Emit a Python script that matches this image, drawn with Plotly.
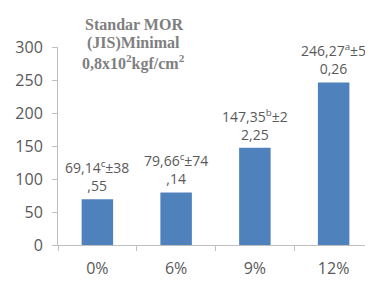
import plotly.graph_objects as go

categories = ["0%", "6%", "9%", "12%"]
mor_values = [69.14, 79.66, 147.35, 246.27]
value_labels = [
    "69,14<sup>c</sup>±38<br>,55",
    "79,66<sup>c</sup>±74<br>,14",
    "147,35<sup>b</sup>±2<br>2,25",
    "246,27<sup>a</sup>±5<br>0,26",
]
y_ticks = [0, 50, 100, 150, 200, 250, 300]
standard_note_lines = [
    "Standar MOR",
    "(JIS)Minimal",
    "0,8x10<sup>2</sup>kgf/cm<sup>2</sup>",
]

gray = "#595959"
axis_gray = "#bfbfbf"

fig = go.Figure()
fig.add_trace(go.Bar(
    x=categories, y=mor_values,
    marker=dict(color="#4F81BD", line=dict(width=0)),
    width=0.4,
))

for cat, val, lab in zip(categories, mor_values, value_labels):
    fig.add_annotation(
        x=cat, y=val, text=lab, xref="x", yref="y",
        xanchor="center", yanchor="bottom", yshift=2,
        showarrow=False, align="center",
        font=dict(family="Open Sans", size=14, color=gray),
    )

fig.update_layout(
    width=365, height=276,
    margin=dict(l=50, r=0, t=39, b=39, autoexpand=False),
    paper_bgcolor="white", plot_bgcolor="white",
    showlegend=False,
    font=dict(family="Open Sans", color=gray),
)
fig.update_yaxes(
    range=[0, 300], tickvals=y_ticks,
    showgrid=False, zeroline=False, automargin=False,
    showline=True, linecolor=axis_gray, linewidth=1,
    ticks="outside", ticklen=5, tickcolor=axis_gray,
    tickfont=dict(family="Open Sans", size=16, color=gray),
    ticklabelstandoff=6,
)
fig.update_xaxes(
    showgrid=False, zeroline=False, automargin=False,
    showline=True, linecolor=axis_gray, linewidth=1,
    ticks="outside", ticklen=5, tickcolor=axis_gray, tickson="boundaries",
    tickfont=dict(family="Open Sans", size=16, color=gray),
    ticklabelstandoff=9,
)
for i, line in enumerate(standard_note_lines):
    fig.add_annotation(
        text="<b>" + line + "</b>", xref="paper", yref="paper",
        x=0.241, y=1.116 - i * 0.096, xanchor="center", yanchor="middle",
        showarrow=False, align="center",
        font=dict(family="Liberation Serif", size=16, color="#7f7f7f"),
    )

fig.write_html("out.html")
